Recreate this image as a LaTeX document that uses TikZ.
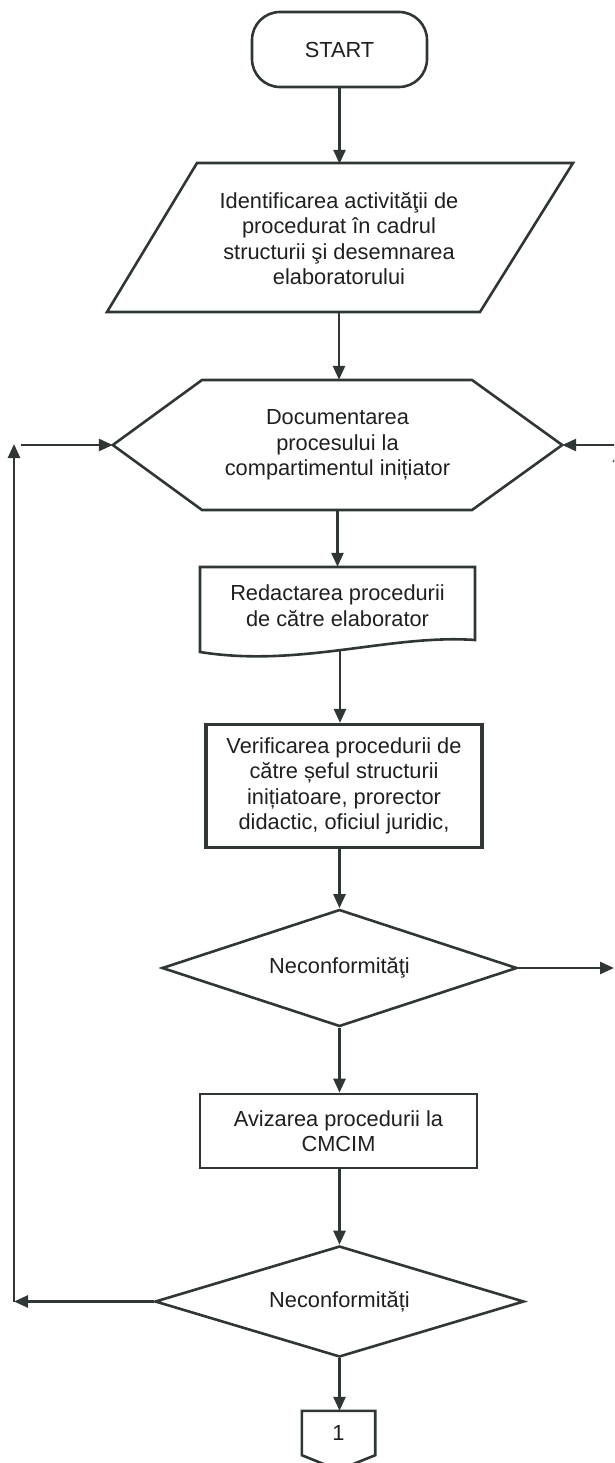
\documentclass[tikz,border=0pt]{standalone}
\usepackage{fontspec}
\setmainfont{Liberation Sans}
\usetikzlibrary{arrows.meta,shapes.geometric}
\definecolor{ln}{RGB}{48,54,54}
\definecolor{tx}{RGB}{30,32,32}
\begin{document}
\begin{tikzpicture}[x=1pt,y=-1pt,
  lbl/.style={align=center,text=tx,font=\fontsize{21.8}{25.5}\selectfont,inner sep=0pt},
  outline/.style={draw=ln,line width=2.6pt,line join=miter},
  box/.style={lbl,draw=ln,line width=2.6pt,rectangle},
  dec/.style={lbl,draw=ln,line width=2.6pt,diamond,aspect=3},
  flow/.style={draw=ln,line width=2.6pt,-{Triangle[length=14pt,width=12pt]}},
  ]
\useasboundingbox (0,0) rectangle (614,1463);
\clip (0,0) rectangle (614,1463);
\fill[white] (0,0) rectangle (614,1463);

% nodes
\node[lbl,rounded corners=28pt,draw=ln,line width=2.6pt,minimum width=175pt,minimum height=75pt] (start) at (339.5,49.5) {START};

\node[lbl,minimum width=374pt,minimum height=149pt] (ident) at (339,238.5) {Identificarea activităţii de\\procedurat în cadrul\\structurii şi desemnarea\\elaboratorului};
\draw[outline] (197,163) -- (573,163) -- (480,312) -- (107,312) -- cycle;

\node[lbl,minimum width=449pt,minimum height=130pt] (hex) at (337.5,445) {Documentarea\\procesului la\\compartimentul inițiator};
\draw[outline] (hex.west) -- (202,380) -- (472,380) -- (hex.east) -- (472,510) -- (202,510) -- cycle;

\node[lbl,minimum width=275pt,minimum height=77pt] (doc) at (337.5,605.5) {Redactarea procedurii\\de către elaborator};
\draw[outline] (200,567) -- (475,567) -- (475,640) .. controls (390,634) and (300,668) .. (200,652) -- cycle;
\coordinate (docb) at (340,651);

\node[box,line width=3.2pt,minimum width=276pt,minimum height=123pt] (verif) at (344,786) {Verificarea procedurii de\\către șeful structurii\\inițiatoare, prorector\\didactic, oficiul juridic,};

\node[dec,minimum width=355pt,minimum height=117pt] (d1) at (339.5,968) {Neconformităţi};

\node[box,minimum width=277pt,minimum height=74pt] (aviz) at (338.5,1131) {Avizarea procedurii la\\CMCIM};

\node[dec,minimum width=369pt,minimum height=111pt] (d2) at (339.5,1301.5) {Neconformități};

\node[lbl,minimum width=73pt,minimum height=44pt] (c1) at (338.5,1433) {1};
\draw[outline] (c1.north west) -- (c1.north east) -- (c1.south east) -- (338.5,1470) -- (c1.south west) -- cycle;

% main flow
\draw[flow] (start.south) -- (start.south |- ident.north);
\draw[flow] (ident.south) -- (ident.south |- hex.north);
\draw[flow] (hex.south) -- (hex.south |- doc.north);
\draw[flow] (docb) -- (docb |- verif.north);
\draw[flow] (d1.north |- verif.south) -- (d1.north);
\draw[flow] (d1.south) -- (d1.south |- aviz.north);
\draw[flow] (d2.north |- aviz.south) -- (d2.north);
\draw[flow] (d2.south) -- (d2.south |- c1.north);

% left loop
\coordinate (lb) at (14,1301.5);
\coordinate (lt) at (14,444);
\coordinate (lh) at (21,445);
\draw[flow] (d2.west) -- (lb);
\draw[flow] (lb) -- (lt);
\draw[flow] (lh) -- (hex.west);

% right loop (cut by the page edge)
\coordinate (rb) at (614,968);
\coordinate (rv) at (619,968);
\coordinate (rt) at (619,448);
\coordinate (rh) at (616,445);
\draw[flow] (d1.east) -- (rb);
\draw[flow] (rv) -- (rt);
\draw[flow] (rh) -- (hex.east);
\end{tikzpicture}
\end{document}
